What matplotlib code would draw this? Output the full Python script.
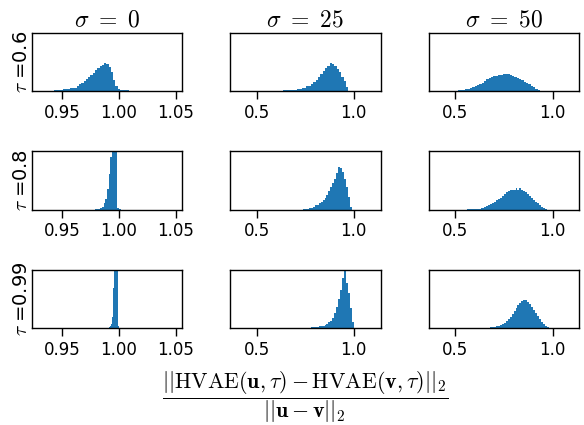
import numpy as np
import matplotlib
matplotlib.use("Agg")
from matplotlib import pyplot as plt

plt.rcParams["mathtext.fontset"] = "cm"
plt.rcParams["font.family"] = "DejaVu Sans"

sigmas = ["0", "25", "50"]
taus = ["0.6", "0.8", "0.99"]

# x range and ticks per column
col_xlim = [(0.9236, 1.0555), (0.364, 1.139), (0.365, 1.136)]
col_ticks = [[0.95, 1.00, 1.05], [0.5, 1.0], [0.5, 1.0]]
col_ticklabels = [["0.95", "1.00", "1.05"], ["0.5", "1.0"], ["0.5", "1.0"]]

# histogram bins: (first edge, bin width) per panel, row-major (tau, sigma)
bin_start = [
    [0.943, 0.636, 0.516],
    [0.979, 0.740, 0.560],
    [0.991, 0.770, 0.670],
]
bin_width = [
    [0.002, 0.012, 0.012],
    [0.0015, 0.010, 0.010],
    [0.001, 0.010, 0.010],
]

# bar heights (axes height ~ 58 units)
h_06_0 = [1, 1, 1, 1.5, 1.7, 1.7, 2, 2.7, 2.7, 3.5, 5, 6.5, 8, 9.5, 11.5, 13.5,
          15.5, 18, 20.5, 23, 25, 25.7, 28, 26.5, 23.5, 19, 10.5, 5, 2.3, 1.3,
          1, 0.7, 0.7, 0.5]
h_06_25 = [0.7, 0.7, 0.8, 1, 1.3, 1.5, 2.3, 2.5, 3.3, 3.5, 4.7, 5.5, 7, 9, 11,
           14, 17, 19.5, 22.5, 25, 28, 26.5, 25, 22, 18.5, 14, 10, 4.5]
h_06_50 = [0.7, 0.8, 1.5, 1.8, 2.5, 3, 4, 5, 6, 6.5, 8, 10, 11.5, 13, 14, 14.5,
           15.3, 15.7, 16, 16.5, 16.5, 16.7, 16, 15, 14, 13, 12, 10.5, 9, 8,
           6.5, 5.5, 4, 2.3, 1]
h_08_0 = [0.5, 0.7, 1, 1.5, 3, 6, 10, 20, 35, 52, 70, 80, 65, 2, 0.3]
h_08_25 = [0.7, 1, 1, 1.5, 2, 2.3, 4, 4.5, 6, 7, 9, 11, 14.5, 18, 22, 26, 30,
           36, 42.5, 41.5, 37, 30.5, 22, 12, 3]
h_08_50 = [0.2, 0.3, 0.3, 0.3, 0.5, 1, 1, 1.2, 2, 2.7, 3.5, 4, 5, 6, 7.5, 9,
           10.5, 11.5, 13.3, 15.3, 17.3, 18.7, 19.5, 19.7, 19.7, 21.7, 19.7,
           21.7, 19.7, 18.5, 17, 15, 13, 11, 9.5, 7.5, 6, 4.7, 3, 1.5, 0.7]
h_099_0 = [1, 2, 4, 11, 40, 80, 100, 70, 1.5, 0.5]
h_099_25 = [0.5, 0.7, 0.7, 1, 1, 1.5, 1.7, 2, 3.3, 4, 5.7, 7, 10, 15, 21, 29,
            38, 50, 60, 45, 35, 20, 6]
h_099_50 = [0.3, 0.7, 0.7, 1, 1.7, 2.3, 3, 4, 5, 6.5, 8.5, 11, 14, 16.5, 19.5,
            22.5, 25, 26.5, 27.7, 27.3, 26, 24, 21, 18, 15, 12, 9, 5.5, 3.5,
            1.7, 0.7]

heights = [
    [h_06_0, h_06_25, h_06_50],
    [h_08_0, h_08_25, h_08_50],
    [h_099_0, h_099_25, h_099_50],
]

fig, axes = plt.subplots(3, 3, figsize=(5.84, 4.25), dpi=100)
fig.subplots_adjust(left=0.0548, right=0.9914, top=0.9224, bottom=0.2282,
                    wspace=0.323, hspace=1.04)

for r in range(3):
    for c in range(3):
        ax = axes[r, c]
        h = np.array(heights[r][c], dtype=float)
        edges = bin_start[r][c] + bin_width[r][c] * np.arange(len(h) + 1)
        ax.stairs(h, edges, fill=True, color="#1f77b4")
        ax.set_xlim(*col_xlim[c])
        ax.set_ylim(0, 57.5)
        ax.set_yticks([])
        ax.set_xticks(col_ticks[c])
        ax.set_xticklabels(col_ticklabels[c])
        ax.tick_params(axis="x", labelsize=12, length=5.5, width=1.0)
        for s in ax.spines.values():
            s.set_linewidth(1.0)
        if r == 0:
            ax.set_title(r"$\sigma\ =\ %s$" % sigmas[c], fontsize=17, pad=5)
        if c == 0:
            ax.set_ylabel(r"$\tau\ $=" + taus[r], fontsize=14, labelpad=1)

axes[2, 1].set_xlabel(
    r"$\dfrac{||\mathrm{HVAE}(\mathbf{u},\tau)-\mathrm{HVAE}(\mathbf{v},\tau)||_2}{||\mathbf{u}-\mathbf{v}||_2}$",
    fontsize=15.8, labelpad=8)

fig.savefig("out.png", dpi=100)
